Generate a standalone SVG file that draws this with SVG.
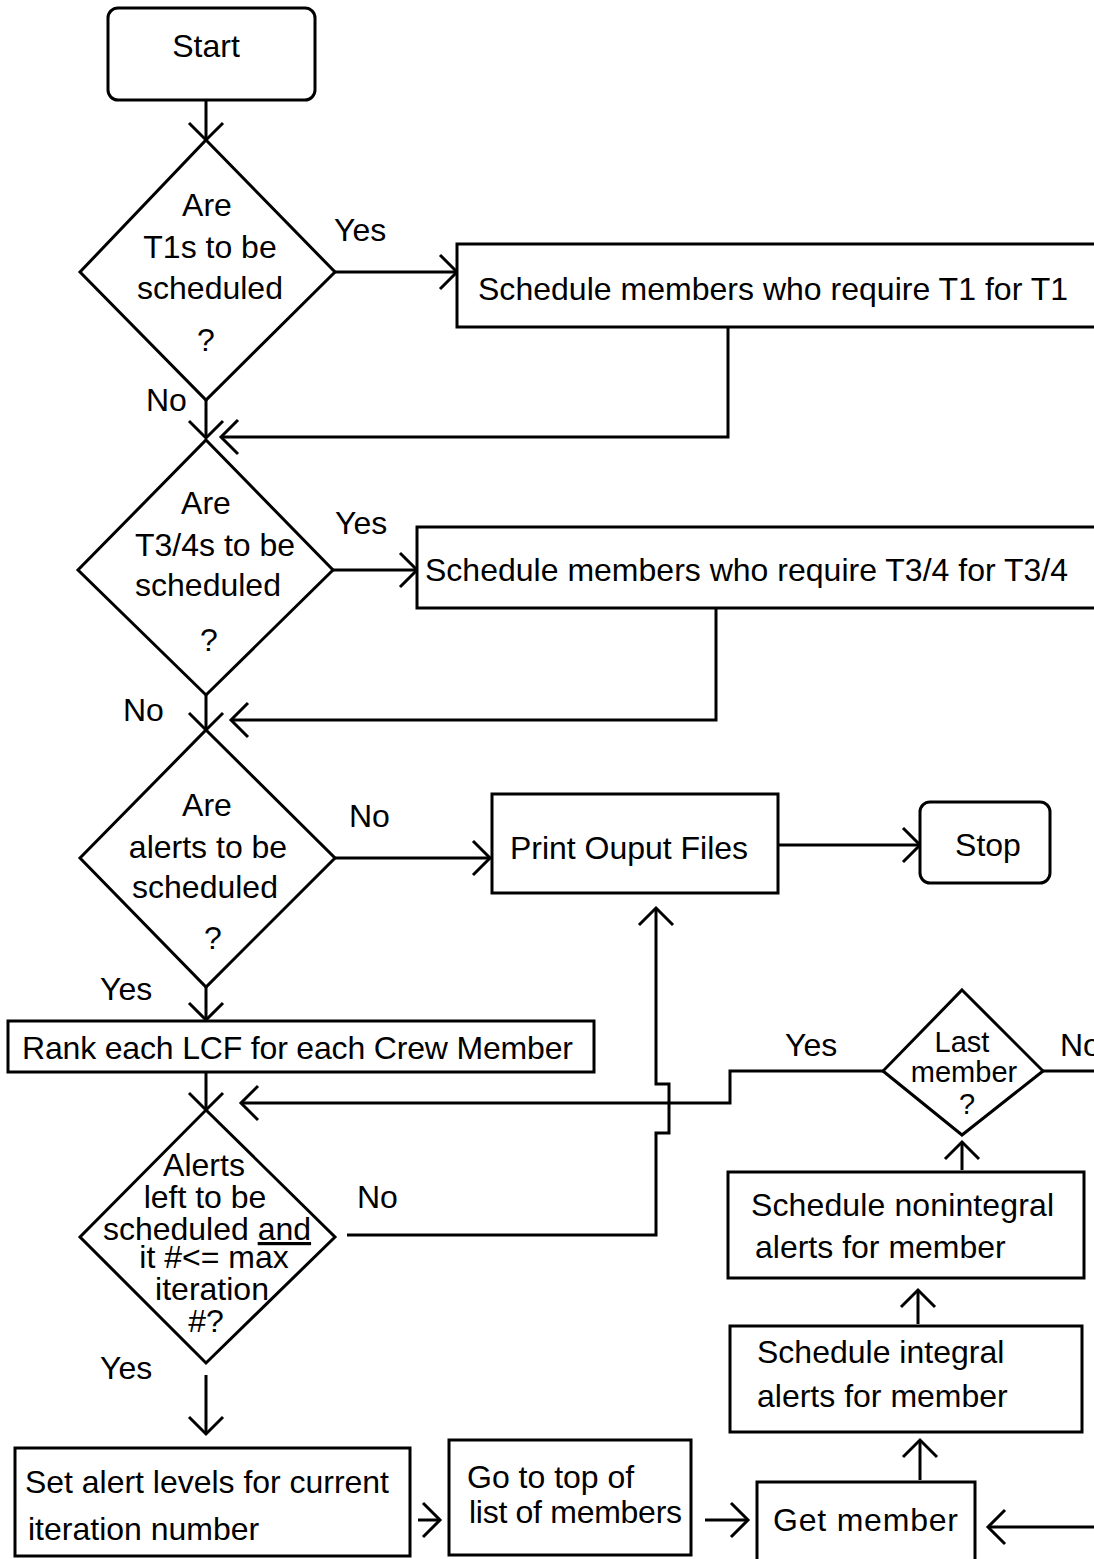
<svg xmlns="http://www.w3.org/2000/svg" width="1094" height="1559" viewBox="0 0 1094 1559">
<style>
text{font-family:"Liberation Sans",Arial,sans-serif;font-size:32px;fill:#000}
.m{text-anchor:middle}
.sm{font-size:29px}
.n{fill:#fff;stroke:#000;stroke-width:3}
.c{fill:none;stroke:#000;stroke-width:3}
</style>
<defs>
<marker id="a" markerUnits="userSpaceOnUse" viewBox="-20 -20 24 40" refX="0" refY="0" markerWidth="24" markerHeight="40" orient="auto" overflow="visible">
<path d="M-17,-17 L0,0 L-17,17" fill="none" stroke="#000" stroke-width="3"/>
</marker>
</defs>
<rect width="1094" height="1559" fill="#fff"/>
<g id="connectors" class="c">
<path d="M206,100 V140" marker-end="url(#a)"/>
<path d="M335,272 H457" marker-end="url(#a)"/>
<path d="M206,400 V438" marker-end="url(#a)"/>
<path d="M728,327 V437 H221" marker-end="url(#a)"/>
<path d="M333,570 H417" marker-end="url(#a)"/>
<path d="M206,695 V730" marker-end="url(#a)"/>
<path d="M716,608 V720 H231" marker-end="url(#a)"/>
<path d="M335,858 H490" marker-end="url(#a)"/>
<path d="M778,845 H920" marker-end="url(#a)"/>
<path d="M206,987 V1020" marker-end="url(#a)"/>
<path d="M206,1072 V1110" marker-end="url(#a)"/>
<path d="M883,1071 H730 V1103 H241" marker-end="url(#a)"/>
<path d="M347,1235 H656 V1133 H669 V1084 H656 V908" marker-end="url(#a)"/>
<path d="M206,1375 V1434" marker-end="url(#a)"/>
<path d="M418,1520 H440" marker-end="url(#a)"/>
<path d="M705,1520 H748" marker-end="url(#a)"/>
<path d="M1094,1527 H988" marker-end="url(#a)"/>
<path d="M920,1480 V1440" marker-end="url(#a)"/>
<path d="M918,1324 V1290" marker-end="url(#a)"/>
<path d="M962,1170 V1142" marker-end="url(#a)"/>
<path d="M1043,1071 H1094"/>
</g>
<g id="start"><rect class="n" x="108" y="8" width="207" height="92" rx="10"/><text class="m" x="206" y="57">Start</text></g>
<g id="d1"><path class="n" d="M206,140 L335,272 L206,400 L80,272 Z"/>
<text class="m" x="207" y="216">Are</text><text class="m" x="210" y="258">T1s to be</text><text class="m" x="210" y="299">scheduled</text><text class="m" x="206" y="351">?</text></g>
<text x="334" y="241">Yes</text>
<text x="146" y="411">No</text>
<g id="b1"><rect class="n" x="457" y="244" width="660" height="83"/><text x="478" y="300" textLength="590">Schedule members who require T1 for T1</text></g>
<g id="d2"><path class="n" d="M206,440 L333,570 L206,695 L78,570 Z"/>
<text class="m" x="206" y="514">Are</text><text class="m" x="215" y="556">T3/4s to be</text><text class="m" x="208" y="596">scheduled</text><text class="m" x="209" y="651">?</text></g>
<text x="335" y="534">Yes</text>
<text x="123" y="721">No</text>
<g id="b2"><rect class="n" x="417" y="527" width="700" height="81"/><text x="425" y="581" textLength="643">Schedule members who require T3/4 for T3/4</text></g>
<g id="d3"><path class="n" d="M206,730 L335,858 L206,987 L80,858 Z"/>
<text class="m" x="207" y="816">Are</text><text class="m" x="208" y="858">alerts to be</text><text class="m" x="205" y="898">scheduled</text><text class="m" x="213" y="949">?</text></g>
<text x="349" y="827">No</text>
<text x="100" y="1000">Yes</text>
<g id="print"><rect class="n" x="492" y="794" width="286" height="99"/><text x="510" y="859" textLength="238">Print Ouput Files</text></g>
<g id="stop"><rect class="n" x="920" y="802" width="130" height="81" rx="10"/><text class="m" x="988" y="856">Stop</text></g>
<g id="rank"><rect class="n" x="8" y="1021" width="586" height="51"/><text x="22" y="1059" textLength="551">Rank each LCF for each Crew Member</text></g>
<g id="d4"><path class="n" d="M206,1110 L335,1237 L206,1363 L80,1237 Z"/>
<text class="m" x="204" y="1176">Alerts</text><text class="m" x="205" y="1208">left to be</text><text class="m" x="207" y="1240">scheduled <tspan text-decoration="underline">and</tspan></text><text class="m" x="214" y="1268">it #&lt;= max</text><text class="m" x="212" y="1300">iteration</text><text class="m" x="206" y="1332">#?</text></g>
<text x="357" y="1208">No</text>
<text x="100" y="1379">Yes</text>
<g id="setalert"><rect class="n" x="15" y="1448" width="395" height="108"/><text x="25" y="1493" textLength="364">Set alert levels for current</text><text x="28" y="1540">iteration number</text></g>
<g id="gotop"><rect class="n" x="449" y="1440" width="242" height="115"/><text x="467" y="1488">Go to top of</text><text x="469" y="1523" textLength="213">list of members</text></g>
<g id="get"><rect class="n" x="757" y="1482" width="218" height="90"/><text x="773" y="1531" textLength="185">Get  member</text></g>
<g id="integral"><rect class="n" x="730" y="1326" width="352" height="106"/><text x="757" y="1363">Schedule integral</text><text x="757" y="1407">alerts for member</text></g>
<g id="nonintegral"><rect class="n" x="728" y="1172" width="356" height="106"/><text x="751" y="1216" textLength="303">Schedule nonintegral</text><text x="755" y="1258">alerts for member</text></g>
<g id="last"><path class="n" d="M962,990 L1043,1071 L962,1135 L883,1071 Z"/>
<text class="m sm" x="962" y="1052">Last</text><text class="m sm" x="964" y="1082">member</text><text class="m sm" x="967" y="1114">?</text></g>
<text x="785" y="1056">Yes</text>
<text x="1060" y="1056">No</text>
</svg>
